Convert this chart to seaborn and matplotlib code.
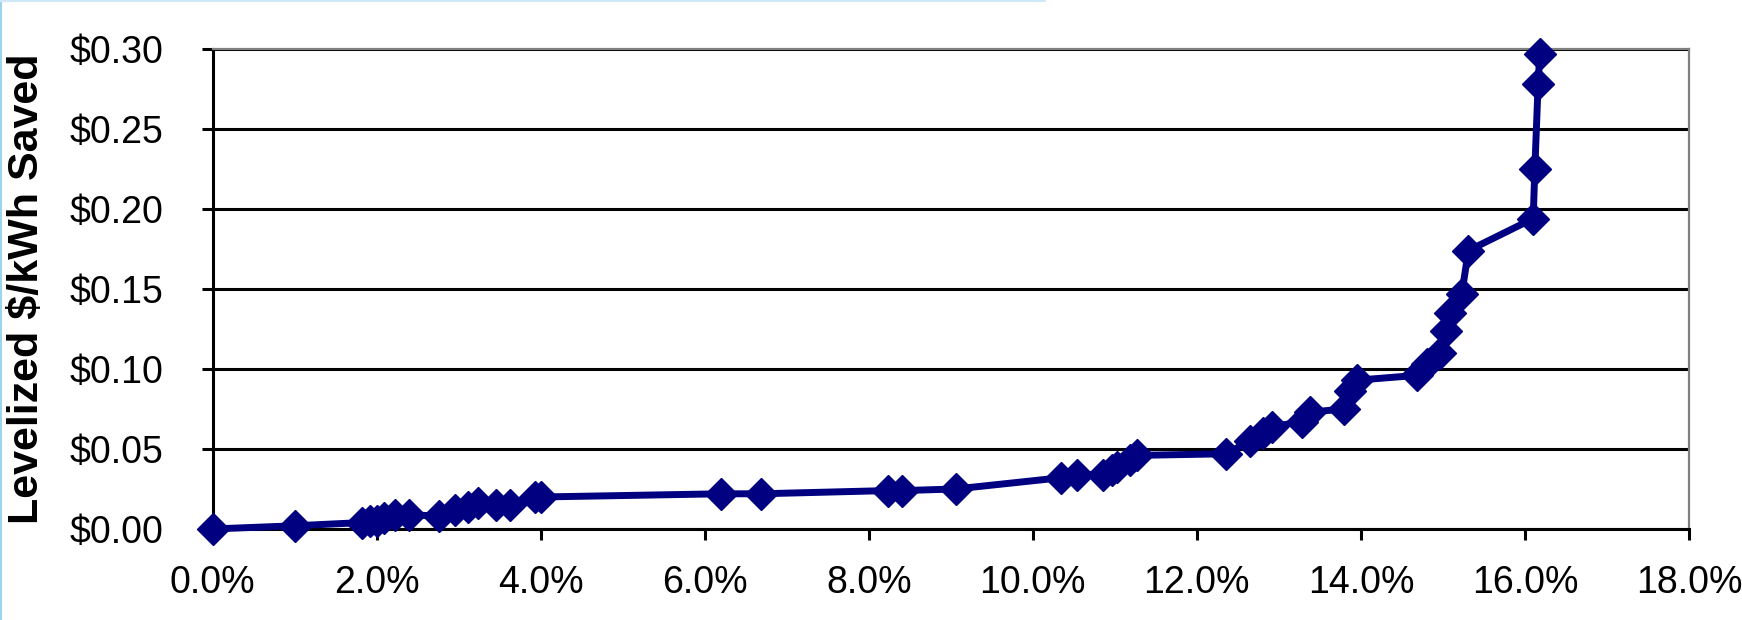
import numpy as np
import pandas as pd
import matplotlib
matplotlib.use("Agg")
import matplotlib.pyplot as plt
from matplotlib.ticker import FuncFormatter, MultipleLocator
from matplotlib.lines import Line2D
import seaborn as sns

# cumulative savings (% of load) vs levelized cost ($/kWh saved)
savings_pct = [
    0.00, 1.00, 1.82, 1.92, 2.00, 2.09, 2.23, 2.39, 2.76, 2.96,
    3.12, 3.24, 3.46, 3.63, 3.93, 4.01, 6.20, 6.69, 8.23, 8.41,
    9.06, 10.34, 10.54, 10.86, 10.96, 11.03, 11.19, 11.27, 12.35, 12.65,
    12.81, 12.92, 13.28, 13.38, 13.79, 13.87, 13.95, 14.68, 14.80, 14.96,
    15.04, 15.09, 15.23, 15.31, 16.10, 16.12, 16.16, 16.18,
]
cost_per_kwh = [
    0.000, 0.002, 0.004, 0.005, 0.005, 0.007, 0.009, 0.009, 0.008, 0.012,
    0.014, 0.016, 0.015, 0.015, 0.020, 0.020, 0.022, 0.022, 0.024, 0.024,
    0.025, 0.032, 0.034, 0.034, 0.037, 0.039, 0.043, 0.046, 0.047, 0.055,
    0.060, 0.064, 0.067, 0.073, 0.075, 0.086, 0.093, 0.096, 0.103, 0.110,
    0.124, 0.135, 0.147, 0.174, 0.194, 0.225, 0.278, 0.297,
]

df = pd.DataFrame({"savings": savings_pct, "cost": cost_per_kwh})

sns.set_style("ticks")
plt.rcParams["font.family"] = ["Liberation Sans", "DejaVu Sans"]

fig = plt.figure(figsize=(17.42, 6.2), dpi=100)
ax = fig.add_axes([0.1220, 0.1468, 0.8476, 0.7742])

sns.lineplot(
    data=df,
    x="savings",
    y="cost",
    sort=False,
    estimator=None,
    color="#000080",
    linewidth=5,
    marker="D",
    markersize=16,
    markeredgecolor="#000080",
    markeredgewidth=1,
    clip_on=False,
    zorder=5,
    ax=ax,
)

ax.set_xlim(0, 18)
ax.set_ylim(0, 0.30)
ax.xaxis.set_major_locator(MultipleLocator(2))
ax.yaxis.set_major_locator(MultipleLocator(0.05))
ax.xaxis.set_major_formatter(FuncFormatter(lambda v, p: f"{v:.1f}%"))
ax.yaxis.set_major_formatter(FuncFormatter(lambda v, p: f"${v:.2f}"))

ax.yaxis.grid(True, color="black", linewidth=2.2)
ax.xaxis.grid(False)

for side in ["left", "bottom"]:
    ax.spines[side].set_color("black")
    ax.spines[side].set_linewidth(2.2)
for side in ["top", "right"]:
    ax.spines[side].set_visible(True)
    ax.spines[side].set_color("#808080")
    ax.spines[side].set_linewidth(1.6)

ax.tick_params(axis="both", direction="out", length=8, width=2.2,
               color="black", labelsize=27, labelcolor="black")
ax.tick_params(axis="x", pad=18)
ax.tick_params(axis="y", pad=27)

ax.set_xlabel("")
ax.set_ylabel("Levelized $/kWh Saved", fontsize=31, fontweight="bold",
              color="black")
ax.yaxis.set_label_coords(-0.112, 0.5)

# thin light-blue frame edges seen in the source image
fig.add_artist(Line2D([0.0008, 0.0008], [0, 1], transform=fig.transFigure,
                      color="#9fd2ef", linewidth=1.5))
fig.add_artist(Line2D([0, 0.6], [0.999, 0.999], transform=fig.transFigure,
                      color="#cfe8f7", linewidth=1.5))

fig.savefig("out.png", dpi=100)
